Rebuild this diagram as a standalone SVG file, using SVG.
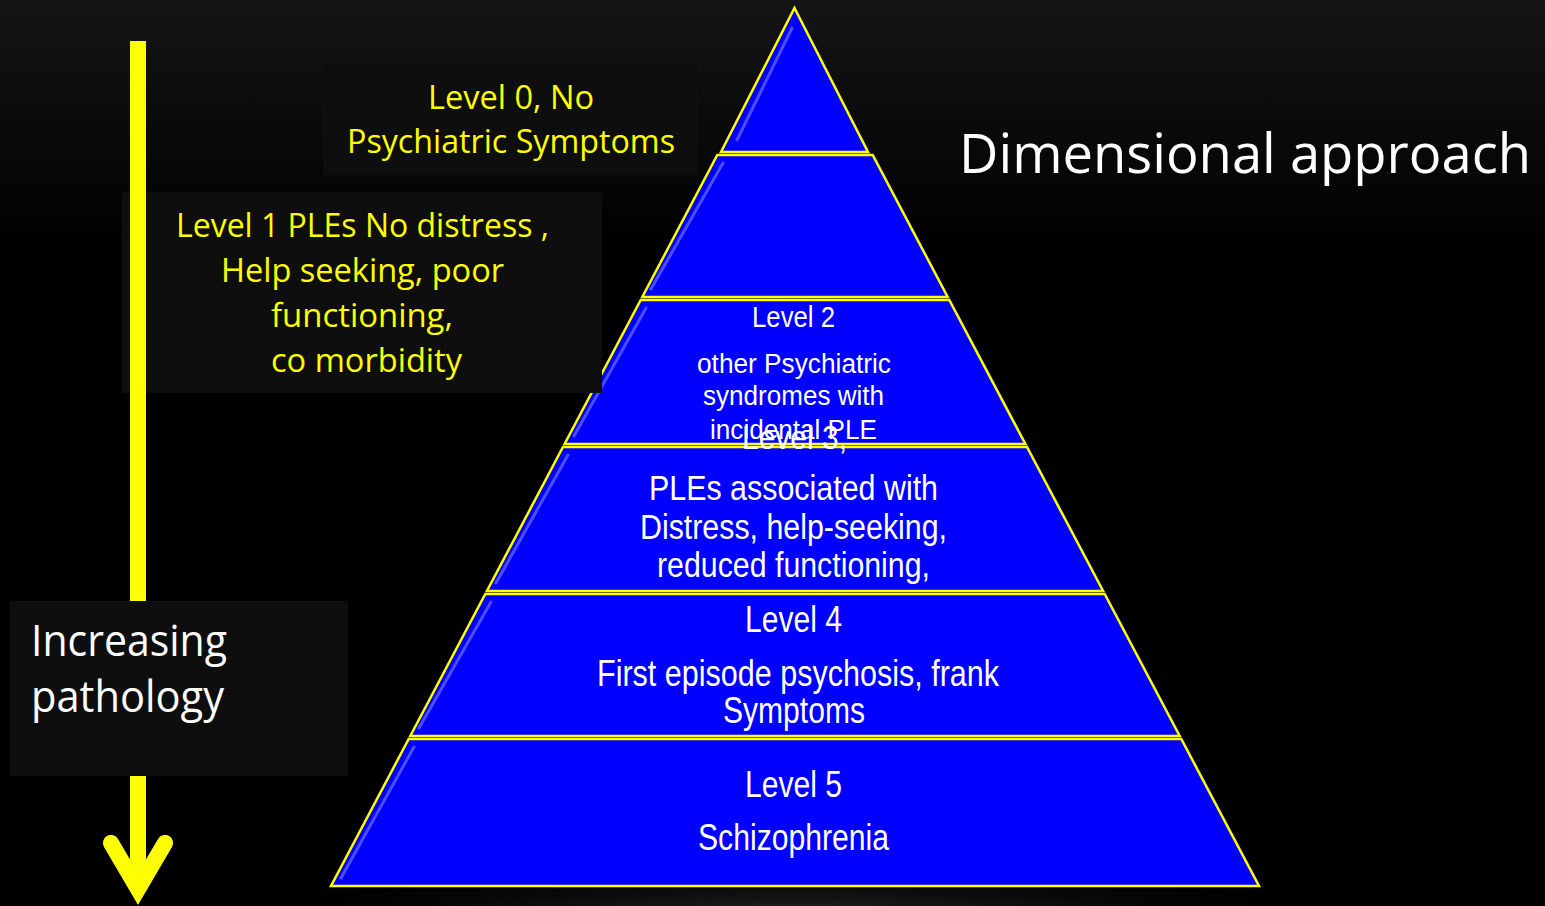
<svg xmlns="http://www.w3.org/2000/svg" width="1545" height="906" viewBox="0 0 1545 906">
  <defs>
    <linearGradient id="bgTop" x1="0" y1="0" x2="0" y2="1">
      <stop offset="0" stop-color="#151515"/>
      <stop offset="0.1" stop-color="#0d0d0d"/>
      <stop offset="0.28" stop-color="#000000"/>
      <stop offset="1" stop-color="#000000"/>
    </linearGradient>
    <radialGradient id="glow" cx="0.5" cy="0.5" r="0.5">
      <stop offset="0" stop-color="#3a3a3a" stop-opacity="1"/>
      <stop offset="1" stop-color="#000000" stop-opacity="0"/>
    </radialGradient>
    <filter id="arrowGlow" x="-50%" y="-50%" width="200%" height="200%">
      <feGaussianBlur in="SourceAlpha" stdDeviation="3"/>
      <feFlood flood-color="#888888" flood-opacity="0.7"/>
      <feComposite operator="in" in2="SourceAlpha"/>
      <feMerge><feMergeNode/><feMergeNode in="SourceGraphic"/></feMerge>
    </filter>
  </defs>
  <style>
    .layer { fill: #0000ff; stroke: #ffff00; stroke-width: 2.5; stroke-linejoin: miter; }
    .gloss { fill: none; stroke: #8080ff; stroke-width: 3; stroke-linecap: round; stroke-opacity: 0.6; }
    .box { fill: #0e0e0e; }
    .ytxt { fill: #ffff00; font-family: "Open Sans", "Noto Sans", "Liberation Sans", sans-serif; font-size: 33px; }
    .ptxt { fill: #ffffff; font-family: "Liberation Sans Narrow", "Liberation Sans", "DejaVu Sans Condensed", sans-serif; }
    .wtxt { fill: #ffffff; font-family: "Open Sans", "Noto Sans", "Liberation Sans", sans-serif; }
  </style>

  <rect x="0" y="0" width="1545" height="906" fill="url(#bgTop)"/>
  <ellipse cx="795" cy="930" rx="620" ry="75" fill="url(#glow)"/>

  <g id="pyramid">
    <g id="level0-top">
      <polygon class="layer" points="794.5,8 868,152 721,152"/>
      <path class="gloss" d="M792,28 L737,140"/>
    </g>
    <g id="level1-band">
      <polygon class="layer" points="717.3,155 872.7,155 947.7,297 642.3,297"/>
      <path class="gloss" d="M723,163 L651,289"/>
    </g>
    <g id="level2">
      <polygon class="layer" points="640.7,300 949.3,300 1025.4,444 564.6,444"/>
      <path class="gloss" d="M646,308 L574,436"/>
      <text class="ptxt" font-size="30" x="752" y="327" textLength="83" lengthAdjust="spacingAndGlyphs">Level 2</text>
      <text class="ptxt" font-size="27" x="697" y="373" textLength="194" lengthAdjust="spacingAndGlyphs">other Psychiatric</text>
      <text class="ptxt" font-size="27" x="703" y="405" textLength="181" lengthAdjust="spacingAndGlyphs">syndromes with</text>
      <text class="ptxt" font-size="27" x="710" y="439" textLength="167" lengthAdjust="spacingAndGlyphs">incidental PLE</text>
    </g>
    <g id="level3">
      <polygon class="layer" points="563,447 1027,447 1103.1,591 486.9,591"/>
      <path class="gloss" d="M568,455 L496,583"/>
      <text class="ptxt" font-size="33" x="742" y="449" textLength="105" lengthAdjust="spacingAndGlyphs">Level 3,</text>
      <text class="ptxt" font-size="35" x="649" y="500" textLength="289" lengthAdjust="spacingAndGlyphs">PLEs associated with</text>
      <text class="ptxt" font-size="35" x="640" y="539" textLength="307" lengthAdjust="spacingAndGlyphs">Distress, help-seeking,</text>
      <text class="ptxt" font-size="35" x="657" y="577" textLength="273" lengthAdjust="spacingAndGlyphs">reduced functioning,</text>
    </g>
    <g id="level4">
      <polygon class="layer" points="485.3,594 1104.7,594 1179.7,736 410.3,736"/>
      <path class="gloss" d="M491,602 L419,728"/>
      <text class="ptxt" font-size="36" x="745" y="632" textLength="97" lengthAdjust="spacingAndGlyphs">Level 4</text>
      <text class="ptxt" font-size="36" x="597" y="686" textLength="402" lengthAdjust="spacingAndGlyphs">First episode psychosis, frank</text>
      <text class="ptxt" font-size="36" x="723" y="723" textLength="142" lengthAdjust="spacingAndGlyphs">Symptoms</text>
    </g>
    <g id="level5">
      <polygon class="layer" points="408.7,739 1181.3,739 1259,886 331,886"/>
      <path class="gloss" d="M414,747 L341,878"/>
      <text class="ptxt" font-size="36" x="745" y="797" textLength="97" lengthAdjust="spacingAndGlyphs">Level 5</text>
      <text class="ptxt" font-size="36" x="698" y="850" textLength="191" lengthAdjust="spacingAndGlyphs">Schizophrenia</text>
    </g>
  </g>

  <g id="title">
    <text class="wtxt" font-size="55" x="959" y="173" textLength="572" lengthAdjust="spacingAndGlyphs">Dimensional approach</text>
  </g>

  <g id="label-level0">
    <rect class="box" x="323" y="64" width="375" height="111"/>
    <text class="ytxt" x="428" y="109" textLength="166" lengthAdjust="spacingAndGlyphs">Level 0, No</text>
    <text class="ytxt" x="347" y="153" textLength="328" lengthAdjust="spacingAndGlyphs">Psychiatric Symptoms</text>
  </g>

  <g id="label-level1">
    <rect class="box" x="122" y="192" width="480" height="201"/>
    <text class="ytxt" x="176" y="237" textLength="373" lengthAdjust="spacingAndGlyphs">Level 1 PLEs No distress ,</text>
    <text class="ytxt" x="221" y="282" textLength="283" lengthAdjust="spacingAndGlyphs">Help seeking, poor</text>
    <text class="ytxt" x="271" y="327" textLength="182" lengthAdjust="spacingAndGlyphs">functioning,</text>
    <text class="ytxt" x="271" y="372" textLength="191" lengthAdjust="spacingAndGlyphs">co morbidity</text>
  </g>

  <g id="connectors">
    <rect x="130" y="41" width="16" height="840" fill="#ffff00"/>
    <polyline points="111,843 138,889 165,843" fill="none" stroke="#ffff00" stroke-width="16" stroke-linecap="round" stroke-linejoin="miter" filter="url(#arrowGlow)"/>
  </g>

  <g id="label-pathology">
    <rect class="box" x="10" y="601" width="338" height="175"/>
    <text class="wtxt" font-size="43" x="31" y="656" textLength="196" lengthAdjust="spacingAndGlyphs">Increasing</text>
    <text class="wtxt" font-size="43" x="31" y="712" textLength="193" lengthAdjust="spacingAndGlyphs">pathology</text>
  </g>
</svg>
